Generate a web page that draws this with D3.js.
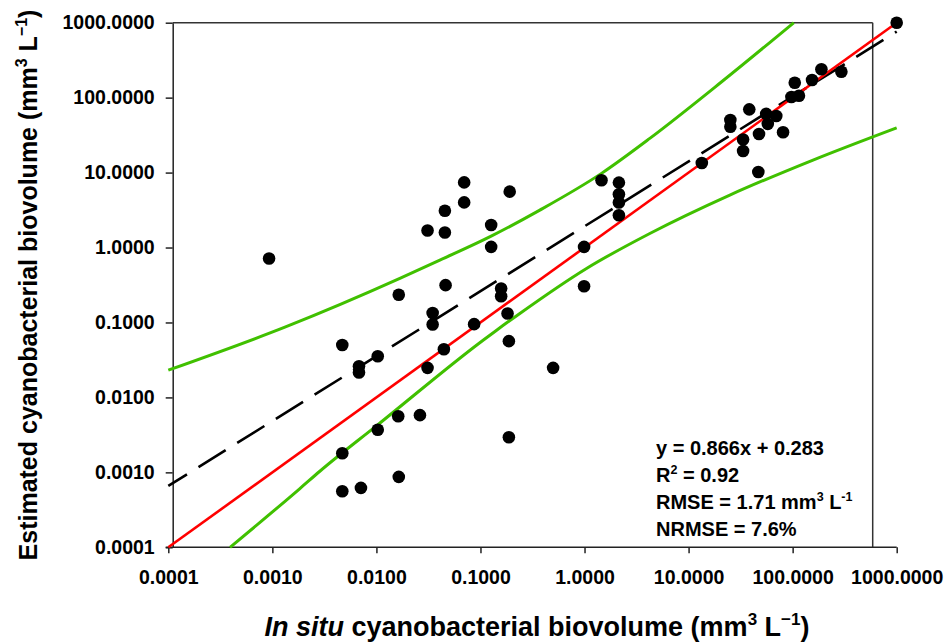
<!DOCTYPE html>
<html>
<head>
<meta charset="utf-8">
<script src="https://cdn.jsdelivr.net/npm/d3@7/dist/d3.min.js"></script>
<style>
  body { margin: 0; background: #fff; }
  svg text { font-family: "Liberation Sans", Arial, Helvetica, sans-serif; font-weight: bold; fill: #000; }
</style>
</head>
<body>
<svg id="chart" width="947" height="643"></svg>
<script>
// Observed (in situ) vs estimated cyanobacterial biovolume, mm3 L-1
const inSitu = [
  0.00093, 0.0047, 0.0047, 0.0047, 0.0071, 0.0068, 0.0068, 0.0103, 0.0103, 0.0162,
  0.0164, 0.0262, 0.0164, 0.031, 0.031, 0.0347, 0.0347, 0.0455, 0.0455, 0.0462,
  0.0445, 0.0697, 0.0697, 0.0869, 0.1267, 0.1267, 0.158, 0.158, 0.182, 0.1875,
  0.1875, 0.191, 0.499, 0.99, 0.99, 1.456, 2.14, 2.14, 2.14, 2.14,
  13.4, 25.2, 25.2, 38.3, 33.4, 33.4, 46.8, 47.5, 55.7, 69.6,
  57.7, 80.9, 104.8, 97.3, 115, 153.6, 189, 294, 1000
];
const estimated = [
  0.715, 0.050, 0.0018, 0.00056, 0.00062, 0.026, 0.0215, 0.0355, 0.0037, 0.0056,
  0.00087, 0.0058, 0.234, 1.69, 0.0248, 0.134, 0.094, 3.09, 1.59, 0.315,
  0.044, 7.40, 4.00, 0.095, 2.00, 1.02, 0.284, 0.224, 0.132, 0.0563,
  0.00294, 5.57, 0.0248, 1.02, 0.305, 7.89, 7.35, 5.13, 3.98, 2.69,
  13.4, 50.2, 40.9, 69.8, 27.6, 19.4, 10.2, 32.7, 60.8, 56.8,
  44.7, 34.5, 158, 102, 106, 172, 239, 222, 1000
];

// Log-log regression: log10(y) = 0.866 log10(x) + 0.283
const fitSlope = 0.866;
const fitIntercept = 0.283;

// Prediction band, upper and lower limits
const upperBandX = [0.0001, 0.00132, 0.0168, 0.0407, 0.1267, 0.372, 1.456, 4.24, 20.8, 102.5];
const upperBandY = [0.0231, 0.0865, 0.387, 0.679, 1.42, 3.16, 9.76, 28.6, 163, 1000];
const lowerBandX = [0.000392, 0.00184, 0.00286, 0.01028, 0.106, 0.143, 0.239, 1.045, 4.24, 24.9, 157, 1000];
const lowerBandY = [0.0001, 0.000608, 0.001035, 0.0043, 0.058, 0.0789, 0.132, 0.526, 1.54, 5.01, 14.7, 39.6];

const tickValues = [0.0001, 0.001, 0.01, 0.1, 1, 10, 100, 1000];
const axisDomain = [0.0001, 1000];

const svg = d3.select("#chart");

const x = d3.scaleLog().domain(axisDomain).range([168.3, 896.7]);
const y = d3.scaleLog().domain(axisDomain).range([547.3, 22.7]);
const yAxisX = 172.7;
const frameRight = 872.7;

const fmt = d3.format(".4f");

// Frame: top and right borders
svg.append("line")
  .attr("x1", yAxisX).attr("x2", frameRight)
  .attr("y1", y(1000)).attr("y2", y(1000))
  .attr("stroke", "#333").attr("stroke-width", 1.5);
svg.append("line")
  .attr("x1", frameRight).attr("x2", frameRight)
  .attr("y1", y(1000)).attr("y2", y(0.0001))
  .attr("stroke", "#333").attr("stroke-width", 1.5);

// X axis
const gx = svg.append("g")
  .attr("transform", `translate(0,${y(0.0001)})`)
  .call(d3.axisBottom(x).tickValues(tickValues).tickFormat(fmt)
    .tickSizeInner(6).tickSizeOuter(0).tickPadding(17));
gx.select(".domain").attr("d", `M${yAxisX - 7},0H${x(1000)}`)
  .attr("stroke", "#222").attr("stroke-width", 1.5);
gx.selectAll(".tick line").attr("stroke", "#222").attr("stroke-width", 1.5);
gx.selectAll(".tick text").attr("font-size", 19.5);

// Y axis
const gy = svg.append("g")
  .attr("transform", `translate(${yAxisX},0)`)
  .call(d3.axisLeft(y).tickValues(tickValues).tickFormat(fmt)
    .tickSizeInner(7).tickSizeOuter(0).tickPadding(11));
gy.select(".domain").attr("stroke", "#222").attr("stroke-width", 1.5);
gy.selectAll(".tick line").attr("stroke", "#222").attr("stroke-width", 1.5);
gy.selectAll(".tick text").attr("font-size", 19.5);
gy.attr("font-family", null).attr("font-size", null);
gx.attr("font-family", null).attr("font-size", null);

const bandLine = d3.line()
  .x(d => x(d[0]))
  .y(d => y(d[1]))
  .curve(d3.curveMonotoneX);

// Prediction band curves
svg.append("path")
  .datum(d3.zip(upperBandX, upperBandY))
  .attr("d", bandLine)
  .attr("fill", "none").attr("stroke", "#40c000").attr("stroke-width", 3);
svg.append("path")
  .datum(d3.zip(lowerBandX, lowerBandY))
  .attr("d", bandLine)
  .attr("fill", "none").attr("stroke", "#40c000").attr("stroke-width", 3);

// Regression line (dashed)
const fitAt = v => Math.pow(10, fitSlope * Math.log10(v) + fitIntercept);
svg.append("path")
  .datum(axisDomain.map(v => [v, fitAt(v)]))
  .attr("d", d3.line().x(d => x(d[0])).y(d => y(d[1])))
  .attr("fill", "none").attr("stroke", "#000").attr("stroke-width", 2.6)
  .attr("stroke-dasharray", "32,13.6").attr("stroke-dashoffset", 10);

// 1:1 line
svg.append("path")
  .datum(axisDomain.map(v => [v, v]))
  .attr("d", d3.line().x(d => x(d[0])).y(d => y(d[1])))
  .attr("fill", "none").attr("stroke", "#ff0000").attr("stroke-width", 2.6);

// Samples
svg.append("g")
  .selectAll("circle")
  .data(d3.zip(inSitu, estimated))
  .join("circle")
  .attr("cx", d => x(d[0]))
  .attr("cy", d => y(d[1]))
  .attr("r", 6.3)
  .attr("fill", "#000");

// Writes a run of text pieces; {sup} pieces are raised and smaller,
// and the next piece drops back to the baseline.
function richText(sel, parts, supSize, rise) {
  let pending = 0;
  parts.forEach(p => {
    if (p.sup !== undefined) {
      sel.append("tspan").attr("dy", -rise + pending).attr("font-size", supSize).text(p.sup);
      pending = rise;
    } else {
      const ts = sel.append("tspan").text(p.t);
      if (pending) ts.attr("dy", pending);
      pending = 0;
    }
  });
}

// Fit statistics
const statLines = [
  [{t: "y = 0.866x + 0.283"}],
  [{t: "R"}, {sup: "2"}, {t: " = 0.92"}],
  [{t: "RMSE = 1.71 mm"}, {sup: "3"}, {t: " L"}, {sup: "-1"}],
  [{t: "NRMSE = 7.6%"}]
];
const statY = [455, 482, 509, 536];
statLines.forEach((parts, i) => {
  const t = svg.append("text").attr("x", 656).attr("y", statY[i]).attr("font-size", 20);
  richText(t, parts, 12.5, 8);
});

// Axis titles
const xTitle = svg.append("text")
  .attr("x", 537).attr("y", 636)
  .attr("text-anchor", "middle").attr("font-size", 27);
xTitle.append("tspan").attr("font-style", "italic").text("In situ");
richText(xTitle, [
  {t: " cyanobacterial biovolume (mm"}, {sup: "3"}, {t: " L"}, {sup: "\u22121"}, {t: ")"}
], 17, 11);

const yTitle = svg.append("text")
  .attr("transform", "translate(36.7,285) rotate(-90)")
  .attr("text-anchor", "middle").attr("font-size", 25);
richText(yTitle, [
  {t: "Estimated cyanobacterial biovolume (mm"}, {sup: "3"}, {t: " L"}, {sup: "\u22121"}, {t: ")"}
], 16, 10);
</script>
</body>
</html>
